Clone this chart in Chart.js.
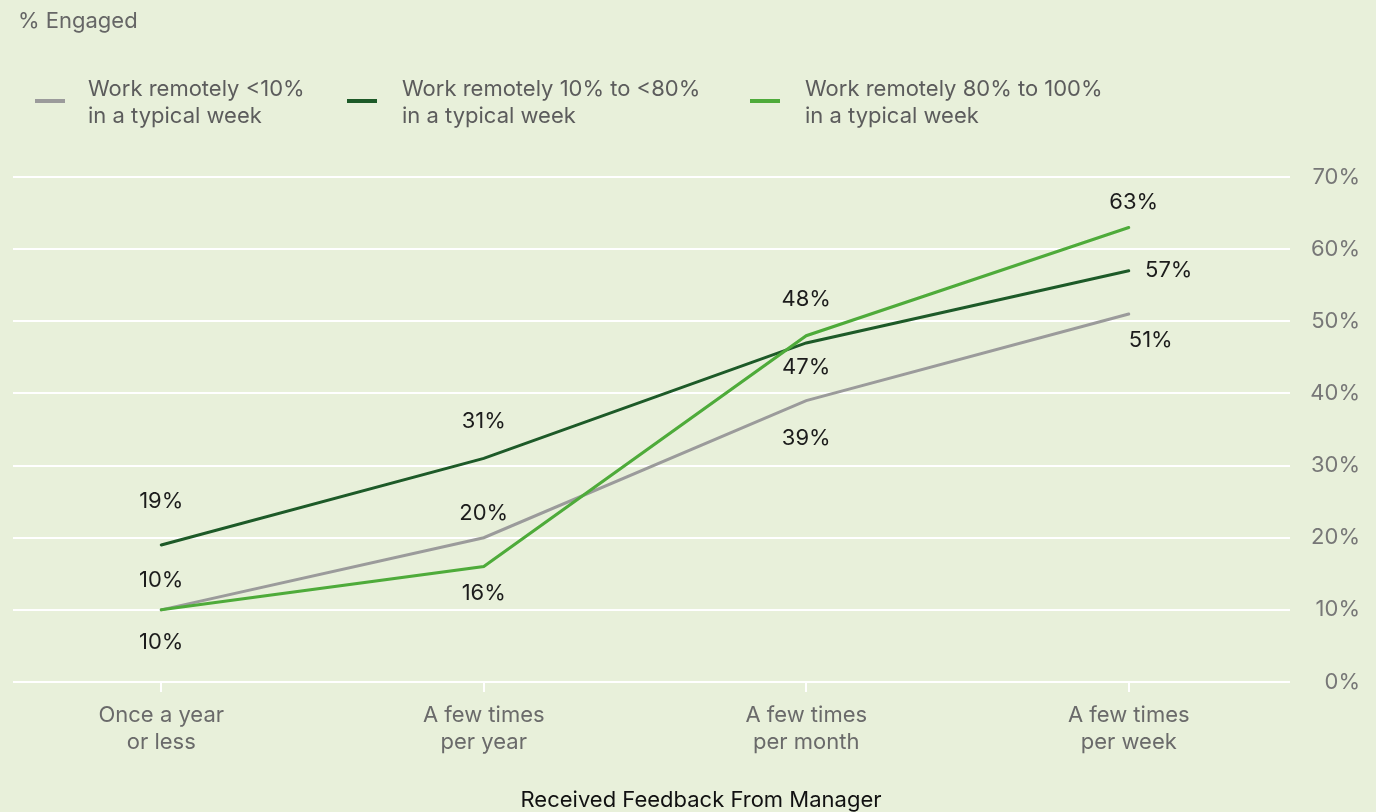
<!DOCTYPE html>
<html><head><meta charset="utf-8">
<script src="https://cdn.jsdelivr.net/npm/chart.js@4"></script>
<style>html,body{margin:0;padding:0;background:#e8f0da;overflow:hidden}#wrap{width:1376px;height:812px;position:relative}</style>
</head><body><div id="wrap"><canvas id="c" width="1376" height="812"></canvas></div>
<script>
const categories = [["Once a year","or less"],["A few times","per year"],["A few times","per month"],["A few times","per week"]];
const seriesNames = [["Work remotely <10%","in a typical week"],["Work remotely 10% to <80%","in a typical week"],["Work remotely 80% to 100%","in a typical week"]];
const lowRemote = [10,20,39,51];
const hybrid = [19,31,47,57];
const fullyRemote = [10,16,48,63];
const yTicks = [0,10,20,30,40,50,60,70];
const yTitle = "% Engaged";
const xTitle = "Received Feedback From Manager";

const FONT = "Inter, Roboto, sans-serif";
const colors = ["#9b9b9b", "#1d5a28", "#4eab3a"];
// label offsets (px) relative to each point, per series
const labelOffsets = [
  [[0,-29],[0,-24],[0,38],[22,26]],
  [[0,-44],[0,-37],[0,24],[40,0]],
  [[0,33],[0,27],[0,-36],[5,-25]]
];
const legendSwatchX = [35,347,750];
const legendTextX = [88,402,805];

const bgPlugin = {
  id:'bg',
  beforeDraw(chart){
    const ctx = chart.ctx;
    ctx.save(); ctx.fillStyle = '#e8f0da'; ctx.fillRect(0,0,chart.width,chart.height); ctx.restore();
  },
  beforeDatasetsDraw(chart){
    const ctx = chart.ctx, y = chart.scales.y, a = chart.chartArea;
    ctx.save(); ctx.strokeStyle = '#ffffff'; ctx.lineWidth = 2;
    yTicks.forEach(v=>{
      const py = Math.round(y.getPixelForValue(v));
      ctx.beginPath(); ctx.moveTo(13, py); ctx.lineTo(a.right, py); ctx.stroke();
    });
    ctx.restore();
  },
  afterDatasetsDraw(chart){
    const ctx = chart.ctx;
    ctx.save();
    ctx.font = "22px " + FONT; ctx.fillStyle = '#1c1c1c';
    ctx.textAlign = 'center'; ctx.textBaseline = 'middle';
    chart.data.datasets.forEach((ds, i)=>{
      const meta = chart.getDatasetMeta(i);
      meta.data.forEach((pt, j)=>{
        const off = labelOffsets[i][j];
        ctx.fillText(ds.data[j] + '%', pt.x + off[0], pt.y + off[1]);
      });
    });
    ctx.restore();
  },
  afterDraw(chart){
    const ctx = chart.ctx;
    ctx.save();
    ctx.textBaseline = 'middle'; ctx.textAlign = 'left';
    ctx.font = "22px " + FONT; ctx.fillStyle = '#666666';
    ctx.fillText(yTitle, 18, 21);
    seriesNames.forEach((lines, i)=>{
      ctx.strokeStyle = colors[i]; ctx.lineWidth = 4; ctx.lineCap = 'butt';
      ctx.beginPath(); ctx.moveTo(legendSwatchX[i], 101); ctx.lineTo(legendSwatchX[i]+30, 101); ctx.stroke();
      ctx.fillStyle = '#5c5c5c';
      lines.forEach((t, k)=> ctx.fillText(t, legendTextX[i], 89 + k*27));
    });
    ctx.textAlign = 'center'; ctx.fillStyle = '#111111'; ctx.font = "22px " + FONT;
    ctx.fillText(xTitle, 701, 800);
    ctx.restore();
  }
};

new Chart(document.getElementById('c'), {
  type: 'line',
  data: {
    labels: categories,
    datasets: [
      {label: seriesNames[0].join(' '), data: lowRemote, borderColor: colors[0], order: 2},
      {label: seriesNames[1].join(' '), data: hybrid, borderColor: colors[1], order: 1},
      {label: seriesNames[2].join(' '), data: fullyRemote, borderColor: colors[2], order: 0}
    ]
  },
  options: {
    responsive: false, animation: false, devicePixelRatio: 1,
    layout: {padding: {left: 0, right: 16, top: 177, bottom: 0}},
    elements: {line: {borderWidth: 3, tension: 0, borderCapStyle: 'round'}, point: {radius: 0}},
    plugins: {legend: {display: false}, tooltip: {enabled: false}, title: {display: false}},
    scales: {
      x: {
        offset: true,
        grid: {display: true, drawOnChartArea: false, offset: false, color: '#ffffff', lineWidth: 2, tickLength: 10},
        border: {display: false},
        ticks: {color: '#6a6a6a', font: {family: FONT, size: 22, lineHeight: 1.23}, padding: 10, maxRotation: 0, autoSkip: false},
        afterFit(s){ s.height = 130; }
      },
      y: {
        position: 'right', min: 0, max: 70,
        grid: {display: false}, border: {display: false},
        ticks: {stepSize: 10, color: '#777777', font: {family: FONT, size: 22}, crossAlign: 'far', padding: 0, callback: v => v + '%'},
        afterFit(s){ s.width = 70; }
      }
    }
  },
  plugins: [bgPlugin]
});
</script></body></html>
